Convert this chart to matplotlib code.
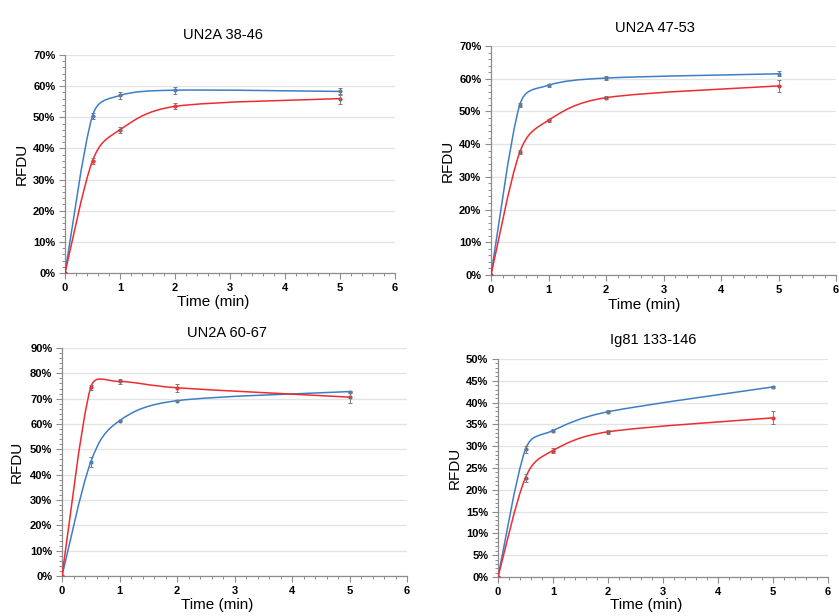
import numpy as np
import matplotlib.pyplot as plt
from matplotlib.path import Path
from matplotlib.patches import PathPatch
from matplotlib.ticker import MultipleLocator, PercentFormatter

plt.rcParams['font.family'] = ['Liberation Sans', 'DejaVu Sans']

# --- data (RFDU in %) ---
time_min = [0, 0.5, 1, 2, 5]

titles = ['UN2A 38-46', 'UN2A 47-53', 'UN2A 60-67', 'Ig81 133-146']

blue_38 = [0, 50.5, 57.0, 58.7, 58.3]
blue_38_err = [0, 1.0, 1.0, 1.1, 1.0]
red_38 = [0, 36.0, 46.0, 53.5, 56.0]
red_38_err = [0, 0.9, 1.0, 1.0, 1.6]

blue_47 = [0, 52.0, 58.0, 60.2, 61.5]
blue_47_err = [0, 0.6, 0.5, 0.7, 0.8]
red_47 = [0, 37.5, 47.3, 54.2, 57.8]
red_47_err = [0, 0.6, 0.5, 0.5, 1.9]

blue_60 = [0, 45.0, 61.3, 69.2, 72.8]
blue_60_err = [0, 2.0, 0.3, 0.3, 0.4]
red_60 = [0, 74.5, 76.8, 74.3, 70.6]
red_60_err = [0, 1.0, 1.0, 1.5, 2.2]

blue_ig = [0, 29.3, 33.6, 37.9, 43.6]
blue_ig_err = [0, 0.8, 0.4, 0.3, 0.2]
red_ig = [0, 22.8, 29.0, 33.3, 36.5]
red_ig_err = [0, 0.9, 0.5, 0.5, 1.5]

y_max = [70, 70, 90, 50]
y_step = [10, 10, 10, 5]

BLUE = '#3D7EC6'
RED = '#EE2B30'

W, H = 839, 616
fig = plt.figure(figsize=(W / 100, H / 100), dpi=100)

# pixel layout: left, right, top, bottom, title (x, y), xlabel (x, y), ylabel x
layout = [
    dict(l=65, r=395, t=55, b=273, tx=223, ty=35, xlx=213, xly=302, ylx=22),
    dict(l=491, r=836, t=46, b=275, tx=655, ty=28, xlx=644, xly=305, ylx=448),
    dict(l=62, r=407, t=348, b=576, tx=227, ty=333, xlx=217, xly=605, ylx=17),
    dict(l=498, r=828, t=359, b=577, tx=653, ty=340, xlx=646, xly=605, ylx=455),
]

series = [
    (blue_38, blue_38_err, red_38, red_38_err),
    (blue_47, blue_47_err, red_47, red_47_err),
    (blue_60, blue_60_err, red_60, red_60_err),
    (blue_ig, blue_ig_err, red_ig, red_ig_err),
]


def smooth_path(ax, x, y):
    # Excel-like smoothed line: cubic bezier built in screen space
    pts = ax.transData.transform(np.column_stack([x, y]))
    n = len(pts)

    def tangent(i):
        d = pts[min(i + 1, n - 1)] - pts[max(i - 1, 0)]
        return d / np.hypot(*d), np.hypot(*d) / 6

    verts = [pts[0]]
    codes = [Path.MOVETO]
    for i in range(n - 1):
        seg = np.hypot(*(pts[i + 1] - pts[i]))
        u0, m0 = tangent(i)
        u1, m1 = tangent(i + 1)
        verts += [pts[i] + u0 * min(m0, seg / 2),
                  pts[i + 1] - u1 * min(m1, seg / 2),
                  pts[i + 1]]
        codes += [Path.CURVE4] * 3
    verts = ax.transData.inverted().transform(np.array(verts))
    return Path(verts, codes)


for k in range(4):
    L = layout[k]
    aw, ah = L['r'] - L['l'], L['b'] - L['t']
    ax = fig.add_axes([L['l'] / W, 1 - L['b'] / H, aw / W, ah / H])
    ax.set_xlim(0, 6)
    ax.set_ylim(0, y_max[k])

    ax.xaxis.set_major_locator(MultipleLocator(1))
    ax.xaxis.set_minor_locator(MultipleLocator(0.2))
    ax.yaxis.set_major_locator(MultipleLocator(y_step[k]))
    ax.yaxis.set_minor_locator(MultipleLocator(y_step[k] / 5))
    ax.yaxis.set_major_formatter(PercentFormatter(decimals=0))

    for s in ['top', 'right']:
        ax.spines[s].set_visible(False)
    for s in ['left', 'bottom']:
        ax.spines[s].set_color('#8c8c8c')
        ax.spines[s].set_linewidth(0.9)
    ax.tick_params(which='major', length=4, width=0.8, color='#8c8c8c',
                   labelsize=8, pad=3)
    ax.tick_params(which='minor', length=2.5, width=0.7, color='#8c8c8c')
    for lab in ax.get_xticklabels() + ax.get_yticklabels():
        lab.set_fontweight('bold')
    ax.grid(axis='y', which='major', color='#e3e3e3', linewidth=0.9)
    ax.set_axisbelow(True)

    b, be, r, re_ = series[k]
    for vals, errs, col in [(b, be, BLUE), (r, re_, RED)]:
        ax.add_patch(PathPatch(smooth_path(ax, time_min, vals), fill=False,
                               edgecolor=col, linewidth=1.1, zorder=3))
        ax.plot(time_min, vals, 'o', ms=2, color=col, zorder=4)
        ax.errorbar(time_min, vals, yerr=errs, fmt='none', ecolor='#7a7a7a',
                    elinewidth=0.7, capsize=1.5, capthick=0.7, zorder=5)

    ax.set_xlabel('Time (min)', fontsize=11, va='center')
    ax.xaxis.set_label_coords((L['xlx'] - L['l']) / aw, (L['b'] - L['xly']) / ah)
    ax.set_ylabel('RFDU', fontsize=11, va='center')
    ax.yaxis.set_label_coords((L['ylx'] - L['l']) / aw, 0.5)
    fig.text(L['tx'] / W, 1 - L['ty'] / H, titles[k], fontsize=10.5,
             ha='center', va='center')

fig.savefig('out.png', dpi=100)
